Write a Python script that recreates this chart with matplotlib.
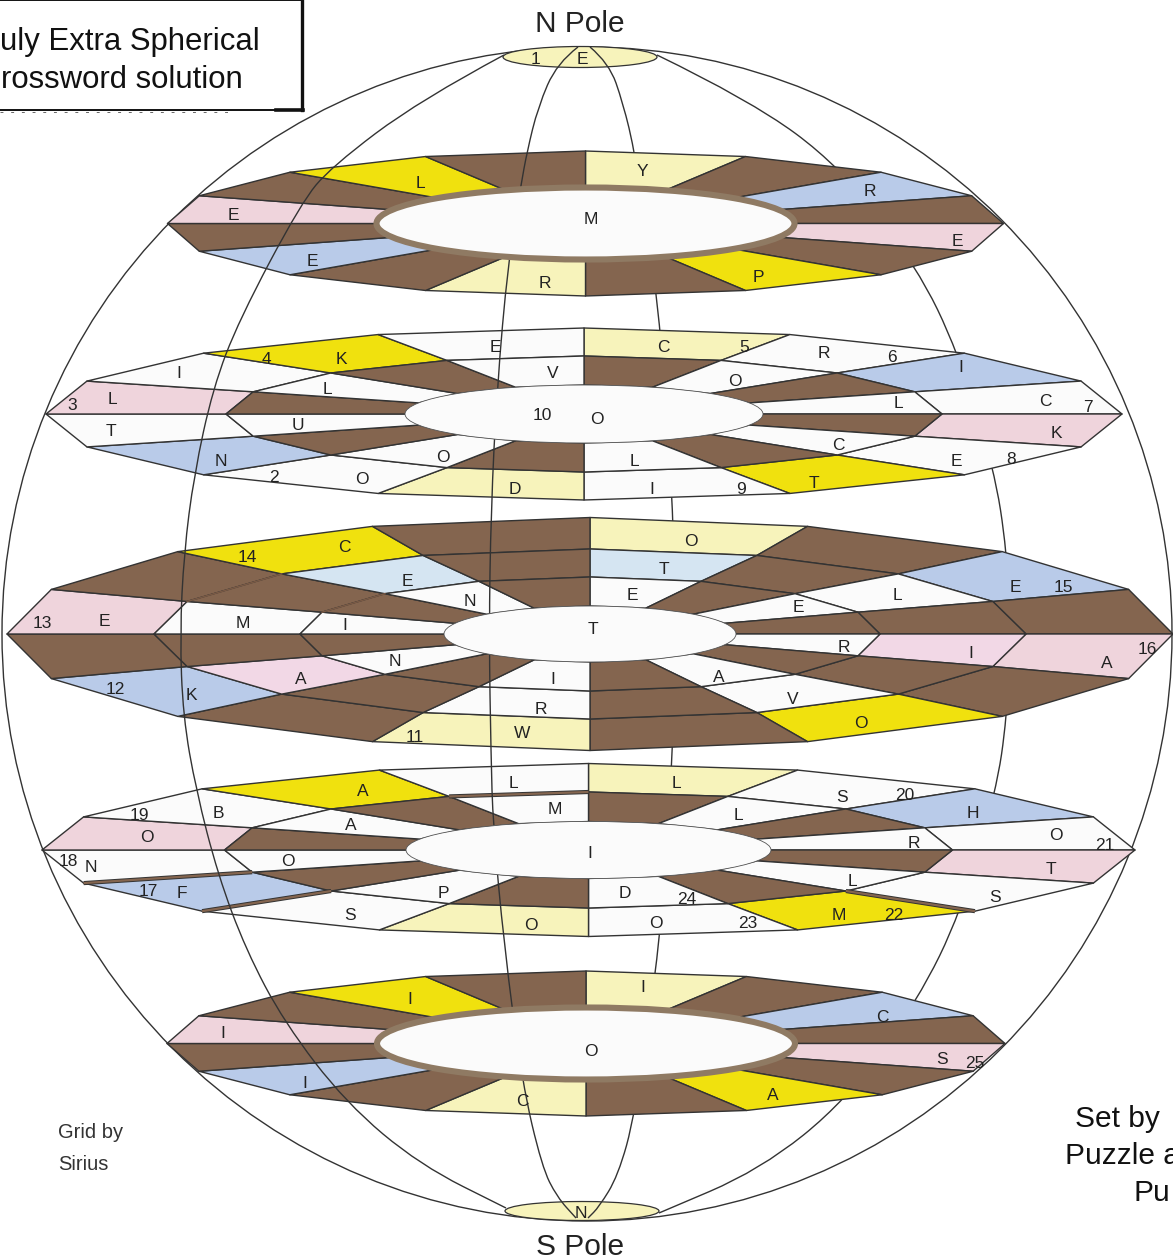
import numpy as np
import matplotlib
matplotlib.use("Agg")
import matplotlib.pyplot as plt
from matplotlib.patches import Ellipse, Polygon, Rectangle, PathPatch
from matplotlib.path import Path

plt.rcParams['font.family'] = ['Liberation Sans', 'DejaVu Sans']

# cell colours, one letter per cell
COLOURS = {
    'n': '#84654f',  # brown (blocked)
    'p': '#f7f3bb',  # pale yellow
    'y': '#f0e10e',  # yellow
    'b': '#b9cbe9',  # blue
    'k': '#efd4dc',  # pink
    'i': '#f2d8e6',  # lilac pink
    'l': '#d5e5f2',  # light blue
    'w': '#fbfbfb',  # white
}

# one string per band (outside to inside), sixteen sectors clockwise from the top
RING1_CELLS = ["pnbnknynpnbnknyn"]
RING2_CELLS = ["pwbwkwywpwbwkwyw", "nwnwnwnwnwnwnwnw"]
RING3_CELLS = ["pnbnknynpnbnknyn", "lnwninwnwninwnln", "wnwnwnwnwnwnwnwn"]
RING4_CELLS = ["pwbwkwywpwbwkwyw", "nwnwnwnwnwnwnwnw"]
RING5_CELLS = ["pnbnknynpnbnknyn"]

RING1_LABELS = "Y R E P R E E L M".split()
RING2_LABELS = "C 5 R 6 I C 7 K E 8 T I 9 D O 2 N T 3 L I 4 K E V O L C L O U L 10 O".split()
RING3_LABELS = "O T E E L E 15 R I A 16 A V O I R W 11 N A K 12 I M E 13 N E C 14 T".split()
RING4_LABELS = "L S 20 H O 21 T S R L L D 24 M 22 23 O O S P F 17 N 18 O O A B 19 A L M I".split()
RING5_LABELS = "I C S 25 A C I I I O".split()

RING1_LABEL_XY = [(642, 170), (870, 190), (957, 240), (758, 276), (545, 282), (312, 260),
                  (233, 214), (420, 181), (591, 218)]
RING2_LABEL_XY = [(663, 346), (744, 345), (824, 352), (892, 356), (961, 366), (1045, 399),
                  (1088, 406), (1056, 432), (956, 460), (1011, 457), (814, 481), (652, 488),
                  (741, 488), (515, 487), (362, 477), (274, 475), (221, 460), (111, 430),
                  (72, 404), (112, 397), (179, 372), (266, 357), (341, 357), (495, 345),
                  (553, 371), (735, 379), (898, 401), (838, 443), (634, 459), (443, 456),
                  (298, 423), (327, 387), (542, 413), (597, 418)]
RING3_LABEL_XY = [(691, 540), (664, 567), (632, 594), (798, 605), (897, 594), (1015, 585),
                  (1063, 585), (844, 646), (971, 651), (1107, 661), (1147, 647), (719, 675),
                  (793, 698), (861, 722), (553, 678), (541, 707), (522, 732), (415, 735),
                  (395, 659), (301, 677), (191, 694), (115, 688), (345, 623), (243, 622),
                  (104, 620), (42, 621), (470, 600), (407, 579), (344, 546), (247, 555),
                  (593, 627)]
RING4_LABEL_XY = [(676, 781), (842, 795), (905, 793), (973, 811), (1056, 834), (1105, 843),
                  (1051, 867), (995, 896), (914, 841), (738, 813), (852, 879), (625, 892),
                  (687, 897), (839, 914), (894, 914), (748, 922), (656, 921), (531, 923),
                  (350, 914), (443, 891), (182, 892), (148, 889), (91, 865), (68, 860),
                  (288, 859), (147, 836), (351, 823), (218, 812), (139, 813), (363, 790),
                  (513, 781), (555, 807), (590, 851)]
RING5_LABEL_XY = [(643, 986), (882, 1016), (942, 1058), (975, 1061), (773, 1094), (522, 1100),
                  (305, 1081), (223, 1032), (410, 998), (591, 1050)]

# meridians
WIDE_LEFT = [(504, 55), (420, 100), (331, 167), (301, 203), (239, 320), (213, 388), (194, 475),
             (184, 553), (180, 634), (183, 716), (196, 790), (218, 875), (246, 950), (284, 1022),
             (346, 1103), (420, 1165), (506, 1208)]
WIDE_RIGHT = [(657, 55), (750, 100), (841, 167), (917, 267), (958, 352), (994, 468), (1007, 552),
              (1010, 634), (1007, 717), (996, 792), (961, 912), (918, 1000), (847, 1100),
              (760, 1170), (659, 1213)]
INNER_LEFT = [(578, 47), (557, 63), (538, 107), (527, 152), (521, 185), (508, 263), (497, 388),
              (491, 510), (489, 634), (491, 755), (493, 825), (504, 945), (522, 1082), (542, 1167),
              (557, 1197), (576, 1218)]
INNER_RIGHT = [(590, 47), (609, 63), (623, 103), (635, 153), (658, 295), (673, 498), (675, 634),
               (673, 755), (661, 937), (635, 1115), (618, 1176), (599, 1207), (588, 1218)]

LINE = '#333333'
TEXT = '#222222'
# va='center' sits a little high for these glyphs
TEXT_DROP = 2


def ring_vertex(ring, level, spoke):
    """Corner of a projected 16-gon: level counts from the outside in."""
    cx, cy, widths, heights, pulled = ring
    angle = np.radians(spoke * 22.5)
    width = widths[level]
    # the middle ring is not quite regular next to the centre line
    if level == 0 and spoke % 16 in pulled:
        width = width * 0.975
    return (cx + width * np.sin(angle), cy - heights[level] * np.cos(angle))


def draw_ring(ax, ring, cells, hole_lw=0.6, hole_colour='#555555'):
    for level, band in enumerate(cells):
        for i, code in enumerate(band):
            corners = [ring_vertex(ring, level, i), ring_vertex(ring, level, i + 1),
                       ring_vertex(ring, level + 1, i + 1), ring_vertex(ring, level + 1, i)]
            ax.add_patch(Polygon(corners, closed=True, facecolor=COLOURS[code],
                                 edgecolor=LINE, linewidth=1.0, joinstyle='round', zorder=3))
    cx, cy, widths, heights, _ = ring
    ax.add_patch(Ellipse((cx, cy), 2 * widths[-1], 2 * heights[-1], facecolor='#fbfbfb',
                         edgecolor=hole_colour, linewidth=hole_lw, zorder=5))


def draw_curve(ax, points, zorder):
    # quadratic pieces through the midpoints keeps the trace smooth
    pts = np.array(points, dtype=float)
    verts = [pts[0]]
    codes = [Path.MOVETO]
    for k in range(1, len(pts) - 1):
        verts += [pts[k], (pts[k] + pts[k + 1]) / 2]
        codes += [Path.CURVE3, Path.CURVE3]
    verts.append(pts[-1])
    codes.append(Path.LINETO)
    ax.add_patch(PathPatch(Path(verts, codes), facecolor='none', edgecolor=LINE,
                           linewidth=1.0, zorder=zorder))


def draw_labels(ax, labels, positions):
    for label, (x, y) in zip(labels, positions):
        ax.text(x, y + TEXT_DROP, label, ha='center', va='center', fontsize=12.5,
                color=TEXT, zorder=7)


def draw_sliver(ax, start, end):
    xs, ys = zip(start, end)
    ax.plot(xs, ys, color=LINE, linewidth=3.0, solid_capstyle='butt', zorder=3.5)
    ax.plot(xs, ys, color=COLOURS['n'], linewidth=1.6, solid_capstyle='butt', zorder=3.6)


fig = plt.figure(figsize=(11.73, 12.6), dpi=100)
ax = fig.add_axes([0, 0, 1, 1])
ax.set_xlim(0, 1173)
ax.set_ylim(1260, 0)
ax.axis('off')

# globe and poles
ax.add_patch(Ellipse((587, 634), 1170, 1174, facecolor='none', edgecolor=LINE, linewidth=1.0, zorder=1))
ax.add_patch(Ellipse((580, 57), 154, 21, facecolor=COLOURS['p'], edgecolor=LINE, linewidth=0.9, zorder=1.5))
ax.add_patch(Ellipse((582, 1211), 154, 19, facecolor=COLOURS['p'], edgecolor=LINE, linewidth=0.9, zorder=1.5))
draw_curve(ax, WIDE_RIGHT, 2)
draw_curve(ax, INNER_RIGHT, 2)

ring1 = (585.5, 223.5, [418, 209], [72.5, 36], ())
ring2 = (584, 414, [538, 358, 179], [86, 58, 29], ())
ring3 = (590, 634, [583, 436, 290, 146], [116.5, 85, 57, 28], (1, 7, 9, 15))
ring4 = (588.5, 850, [546.5, 364, 182.5], [86.5, 58, 28.5], ())
ring5 = (586, 1043.5, [419, 209], [72.5, 36], ())

draw_ring(ax, ring1, RING1_CELLS, hole_lw=4.4, hole_colour='#8f7a63')
draw_ring(ax, ring2, RING2_CELLS)
draw_ring(ax, ring3, RING3_CELLS)
draw_ring(ax, ring4, RING4_CELLS)
draw_ring(ax, ring5, RING5_CELLS, hole_lw=4.4, hole_colour='#8f7a63')

# left side meridians pass in front of the rings, holes still cover them
draw_curve(ax, WIDE_LEFT, 4)
draw_curve(ax, INNER_LEFT, 4)

# brown on brown edges that hardly show in the middle ring
for level in (1, 2):
    start, end = ring_vertex(ring3, level, 13), ring_vertex(ring3, level, 14)
    ax.plot(*zip(start, end), color='#7a5a45', linewidth=1.1, zorder=3.2)

# thin brown slivers in the fourth ring
draw_sliver(ax, ring_vertex(ring4, 1, 15), ring_vertex(ring4, 1, 16))
draw_sliver(ax, ring_vertex(ring4, 0, 11), ring_vertex(ring4, 1, 11))
draw_sliver(ax, ring_vertex(ring4, 0, 10), ring_vertex(ring4, 1, 10))
draw_sliver(ax, ring_vertex(ring4, 0, 6), ring_vertex(ring4, 1, 6))

draw_labels(ax, RING1_LABELS, RING1_LABEL_XY)
draw_labels(ax, RING2_LABELS, RING2_LABEL_XY)
draw_labels(ax, RING3_LABELS, RING3_LABEL_XY)
draw_labels(ax, RING4_LABELS, RING4_LABEL_XY)
draw_labels(ax, RING5_LABELS, RING5_LABEL_XY)
draw_labels(ax, ["1", "E", "N"], [(535, 57), (582, 58), (581, 1211)])

ax.text(580, 22 + TEXT_DROP, "N Pole", ha='center', va='center', fontsize=21.5, color='#222222')
ax.text(580, 1245 + TEXT_DROP, "S Pole", ha='center', va='center', fontsize=21.5, color='#222222')

# title box runs off the left edge, only the visible part of the words is kept
ax.add_patch(Rectangle((-10, 0), 312, 110, facecolor='white', edgecolor='#111111', linewidth=1.4, zorder=8))
ax.plot([301.5, 301.5], [0, 110], color='#111111', linewidth=2.4, zorder=9)
ax.plot([276, 303], [109.5, 109.5], color='#111111', linewidth=2.6, zorder=9)
ax.plot([0, 235], [112, 112], color='#666666', linewidth=0.7, linestyle=(0, (3, 8)), zorder=2)
ax.text(260, 40 + TEXT_DROP, "uly Extra Spherical", ha='right', va='center', fontsize=22.4,
        color='#111111', zorder=10)
ax.text(243, 78 + TEXT_DROP, "rossword solution", ha='right', va='center', fontsize=22.4,
        color='#111111', zorder=10)

ax.text(58, 1131 + TEXT_DROP, "Grid by", ha='left', va='center', fontsize=14.5, color='#333333')
ax.text(58, 1163 + TEXT_DROP, "Sirius", ha='left', va='center', fontsize=14.5, color='#333333')

# the reference cuts this block off at the right edge too
ax.text(1075, 1117 + TEXT_DROP, "Set by", ha='left', va='center', fontsize=21.5, color='#111111')
ax.text(1065, 1154 + TEXT_DROP, "Puzzle a", ha='left', va='center', fontsize=21.5, color='#111111')
ax.text(1134, 1191 + TEXT_DROP, "Pu", ha='left', va='center', fontsize=21.5, color='#111111')

fig.savefig('out.png', dpi=100)
